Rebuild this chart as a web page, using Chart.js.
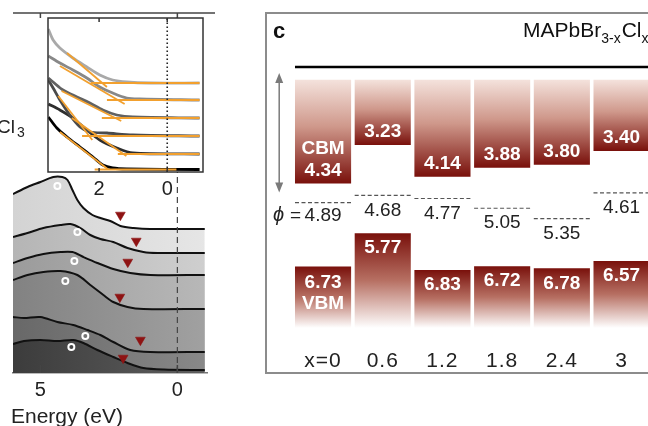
<!DOCTYPE html>
<html>
<head>
<meta charset="utf-8">
<title>MAPbBr3-xClx spectra and energy levels</title>
<script src="https://cdn.jsdelivr.net/npm/chart.js@4.4.1/dist/chart.umd.min.js"></script>
<style>
  html, body { margin:0; padding:0; background:#ffffff; width:648px; height:426px; overflow:hidden; position:relative; }
  canvas { position:absolute; display:block; }
</style>
</head>
<body>
<canvas id="mainChart" width="215" height="426" style="left:0;top:0"></canvas>
<canvas id="insetChart" width="175" height="200" style="left:40px;top:10px"></canvas>
<canvas id="levelChart" width="420" height="426" style="left:265px;top:0"></canvas>
<script>
// ---------------- DATA: panel b (spectra, binding energy in eV, intensity a.u.) ----------------
const mainTicks = [5, 0];
const insetTicks = [2, 0];

const spectrum1 = [[6.0,179],[5.47,186],[5.0,191],[4.53,196],[4.2,196],[4.01,193],[3.83,183],[3.65,173],[3.43,165],[3.1,158],[2.81,155],[2.45,152],[2.08,147],[1.6,145],[0.99,144],[-1.0,144]];
const spectrum2 = [[6.0,136],[5.47,140],[4.89,145],[4.27,148],[3.9,149],[3.54,145],[3.18,138],[2.81,134],[2.34,131],[1.82,125],[1.24,121],[0.73,120],[-1.0,120]];
const spectrum3 = [[6.0,110],[5.47,115],[4.89,119],[4.27,121],[3.83,121],[3.43,116],[2.92,110],[2.34,104],[1.72,100],[0.99,98],[-1.0,98]];
const spectrum4 = [[6.0,93],[5.47,98],[4.89,101],[4.27,102],[3.65,98],[3.18,88],[2.7,78],[2.34,71],[1.82,66],[1.24,64],[-1.0,64]];
const spectrum5 = [[6.0,56],[5.6,55],[5.0,56],[4.38,51],[3.8,48],[3.28,43],[2.81,38],[2.34,31],[1.72,23],[0.99,21],[-1.0,21]];
const spectrum6 = [[6.0,29],[5.6,32],[5.0,33],[4.38,32],[3.8,33],[3.43,30],[2.92,23],[2.34,16],[1.82,10],[1.24,5],[0.5,3.5],[-1.0,3]];

const cutoffCircles = [[4.38,187],[3.65,141],[3.76,112],[4.09,92],[3.36,37],[3.87,26]];
const onsetTriangles = [[2.08,158],[1.5,132],[1.81,111],[2.1,76],[1.35,33],[1.98,15]];

const insetCurve1 = [[3.49,143],[3.35,132],[3.15,124],[2.77,114],[2.36,105],[1.98,97],[1.6,92],[1.19,90],[0.5,89],[-0.95,89]];
const insetCurve2 = [[3.49,116],[3.15,109],[2.77,102],[2.36,94],[1.98,85],[1.6,79],[1.19,74],[0.81,73],[-0.95,72]];
const insetCurve3 = [[3.49,94],[3.35,90],[3.06,82],[2.65,75],[2.27,69],[1.89,62],[1.48,57],[1.01,55],[-0.95,54]];
const insetCurve4 = [[3.49,92],[3.35,84],[3.15,72],[2.86,57],[2.56,45],[2.27,40],[1.77,39],[1.01,37],[-0.95,36]];
const insetCurve5 = [[3.49,68],[3.15,62],[2.77,54],[2.36,42],[1.98,32],[1.48,24],[1.01,19],[-0.95,18]];
const insetCurve6 = [[3.49,55],[3.24,44],[2.94,35],[2.56,25],[2.18,15],[1.89,7],[1.6,4],[1.19,3],[-0.95,2.5]];

const insetTangents = [
  [[2.94,119],[1.77,85]],
  [[3.15,106],[1.25,68]],
  [[3.1,81],[1.35,51]],
  [[3.2,76],[2.2,32]],
  [[2.8,54],[1.2,16]],
  [[3.15,40],[1.75,3]]
];
const insetBaselines = [
  [[2.24,89],[-0.95,89]],
  [[1.77,72],[-0.95,72]],
  [[1.92,54],[-0.95,54]],
  [[2.5,36],[-0.95,36]],
  [[1.45,18],[-0.95,18]],
  [[2.13,2.5],[-0.27,2.5]]
];

// ---------------- DATA: panel c (energies below vacuum, eV) ----------------
const compositions = ['x=0', '0.6', '1.2', '1.8', '2.4', '3'];
const cbmValues = [4.34, 3.23, 4.14, 3.88, 3.80, 3.40];
const vbmValues = [6.73, 5.77, 6.83, 6.72, 6.78, 6.57];
const workFunctions = [4.89, 4.68, 4.77, 5.05, 5.35, 4.61];
const vacuumLevel = 0.98;
const cbmBarTop = 1.35;
const vbmBarBottom = 8.5;
const energyArrow = [1.15, 4.6];

// ---------------- STYLES ----------------
const FONT = '"Liberation Sans", Arial, Helvetica, sans-serif';
const mainFillLeft  = ['#d3d3d3','#b5b5b5','#9b9b9b','#828282','#686868','#3c3c3c'];
const mainFillRight = ['#e6e6e6','#cfcfcf','#b8b8b8','#a1a1a1','#898989','#5f5f5f'];
const insetColors = ['#a9a9a9','#888888','#626262','#4a4a4a','#2e2e2e','#000000'];
const ORANGE = '#f2a02e';
const cbmStops = [[0,'#f4e2dc'],[0.45,'#cf988b'],[1,'#79100b']];
const vbmStops = [[0,'#79100b'],[0.5,'#b77063'],[1,'#ffffff']];

const toXY = arr => arr.map(([x, y]) => ({x, y}));
function hGrad(chart, c1, c2) {
  const a = chart.chartArea;
  if (!a) return c1;
  const g = chart.ctx.createLinearGradient(a.left, 0, a.right, 0);
  g.addColorStop(0, c1); g.addColorStop(1, c2);
  return g;
}
function vGrad(ctx, stops) {
  const ch = ctx.chart;
  if (!ch.chartArea || !ctx.raw || !Array.isArray(ctx.raw)) return stops[stops.length - 1][1];
  const ys = ch.scales.y;
  const y0 = ys.getPixelForValue(ctx.raw[0]);
  const y1 = ys.getPixelForValue(ctx.raw[1]);
  const g = ch.ctx.createLinearGradient(0, y0, 0, y1);
  stops.forEach(([o, c]) => g.addColorStop(o, c));
  return g;
}

// ---------------- MAIN SPECTRA CHART ----------------
const spectra = [spectrum1, spectrum2, spectrum3, spectrum4, spectrum5, spectrum6];
const mainDatasets = [
  { label:'onset', data: toXY(onsetTriangles), showLine:false, pointStyle:'triangle', pointRadius:5.7, pointRotation:180,
    pointBackgroundColor:'#8e1313', pointBorderColor:'#8e1313', pointBorderWidth:0.5, order:0 },
  { label:'cutoff', data: toXY(cutoffCircles), showLine:false, pointStyle:'circle', pointRadius:3,
    pointBackgroundColor:'rgba(0,0,0,0)', pointBorderColor:'#ffffff', pointBorderWidth:2, order:0 },
  { label:'E_F', data: [{x:0, y:0}, {x:0, y:360}], showLine:true, borderColor:'#444', borderWidth:1.2,
    borderDash:[6,4], pointRadius:0, order:1 }
];
spectra.forEach((s, i) => mainDatasets.push({
  label:'spectrum ' + (i + 1), data: toXY(s), showLine:true, borderColor:'#111', borderWidth:2,
  pointRadius:0, tension:0.3, fill:'origin',
  backgroundColor: ctx => hGrad(ctx.chart, mainFillLeft[i], mainFillRight[i]),
  order: 10 - i
}));

const mainDecor = {
  id:'mainDecor',
  afterDraw(chart) {
    const {ctx, chartArea:a, scales:{x}} = chart;
    ctx.save();
    ctx.strokeStyle = '#444'; ctx.lineWidth = 1.5;
    ctx.beginPath(); ctx.moveTo(a.left, a.top); ctx.lineTo(chart.width, a.top); ctx.stroke();
    mainTicks.forEach(v => {
      const px = x.getPixelForValue(v);
      ctx.beginPath();
      ctx.moveTo(px, a.top); ctx.lineTo(px, a.top + 5);
      ctx.moveTo(px, a.bottom); ctx.lineTo(px, a.bottom - 8);
      ctx.stroke();
    });
    ctx.fillStyle = '#222'; ctx.textAlign = 'left'; ctx.textBaseline = 'alphabetic';
    ctx.letterSpacing = '0px';
    ctx.font = '21px ' + FONT;
    ctx.fillText('Energy (eV)', 11, 423);
    ctx.font = '19px ' + FONT;
    ctx.fillText('Cl', -3, 133);
    ctx.font = '14px ' + FONT;
    ctx.fillText('3', 17, 137);
    ctx.restore();
  }
};

new Chart(document.getElementById('mainChart'), {
  type:'scatter',
  data:{ datasets: mainDatasets },
  options:{
    responsive:false, animation:false, events:[], devicePixelRatio:1,
    layout:{ padding:{ left:13, right:7.5, top:13, bottom:18 } },
    plugins:{ legend:{display:false}, tooltip:{enabled:false} },
    scales:{
      x:{ type:'linear', min:-1.1, max:6, reverse:true,
          afterBuildTicks: s => { s.ticks = mainTicks.map(v => ({value:v})); },
          ticks:{ font:{family:FONT, size:20}, color:'#222', padding:5.5, maxRotation:0, autoSkip:false, callback: v => String(v) },
          grid:{ display:false, drawTicks:false }, border:{ display:true, color:'#777', width:1.5 } },
      y:{ display:false, min:0, max:360 }
    }
  },
  plugins:[mainDecor]
});

// ---------------- INSET CHART ----------------
const insetCurves = [insetCurve1, insetCurve2, insetCurve3, insetCurve4, insetCurve5, insetCurve6];
const insetDatasets = [
  { label:'E_F', data:[{x:0,y:0},{x:0,y:154}], showLine:true, borderColor:'#222', borderWidth:1.6,
    borderDash:[1.5,2.5], pointRadius:0, order:0 }
];
insetTangents.forEach((seg, i) => insetDatasets.push({ label:'fit slope ' + (i+1), data: toXY(seg), showLine:true,
  borderColor:ORANGE, borderWidth:1.8, pointRadius:0, order:1 }));
insetBaselines.forEach((seg, i) => insetDatasets.push({ label:'fit base ' + (i+1), data: toXY(seg), showLine:true,
  borderColor:ORANGE, borderWidth:2, pointRadius:0, order:1 }));
insetCurves.forEach((c, i) => insetDatasets.push({ label:'curve ' + (i+1), data: toXY(c), showLine:true,
  borderColor:insetColors[i], borderWidth:2.8, pointRadius:0, tension:0.3, order:2 }));

const insetDecor = {
  id:'insetDecor',
  beforeDraw(chart) {
    const {ctx, chartArea:a} = chart;
    ctx.save(); ctx.fillStyle = '#fff';
    ctx.fillRect(a.left, a.top, a.right - a.left, a.bottom - a.top);
    ctx.restore();
  },
  afterDraw(chart) {
    const {ctx, chartArea:a, scales:{x}} = chart;
    ctx.save();
    ctx.strokeStyle = '#333'; ctx.lineWidth = 1.5;
    ctx.strokeRect(a.left, a.top, a.right - a.left, a.bottom - a.top);
    insetTicks.forEach(v => {
      const px = x.getPixelForValue(v);
      ctx.beginPath();
      ctx.moveTo(px, a.top); ctx.lineTo(px, a.top + 4);
      ctx.moveTo(px, a.bottom); ctx.lineTo(px, a.bottom - 4);
      ctx.stroke();
    });
    ctx.restore();
  }
};

new Chart(document.getElementById('insetChart'), {
  type:'scatter',
  data:{ datasets: insetDatasets },
  options:{
    responsive:false, animation:false, events:[], devicePixelRatio:1,
    layout:{ padding:{ left:8, right:12, top:8, bottom:4 } },
    plugins:{ legend:{display:false}, tooltip:{enabled:false} },
    scales:{
      x:{ type:'linear', min:-1.05, max:3.5, reverse:true,
          afterBuildTicks: s => { s.ticks = insetTicks.map(v => ({value:v})); },
          ticks:{ font:{family:FONT, size:20}, color:'#222', padding:5, maxRotation:0, autoSkip:false, callback: v => String(v) },
          grid:{ display:false, drawTicks:false }, border:{ display:false } },
      y:{ display:false, min:0, max:154 }
    }
  },
  plugins:[insetDecor]
});

// ---------------- PANEL c: ENERGY LEVEL CHART ----------------
const levelDecor = {
  id:'levelDecor',
  beforeDraw(chart) { chart.ctx.letterSpacing = '1px'; },
  afterDatasetsDraw(chart) {
    const {ctx, chartArea:a, scales:{y}} = chart;
    const bars = chart.getDatasetMeta(0).data;
    ctx.save();
    // vacuum level
    const yv = y.getPixelForValue(vacuumLevel);
    ctx.strokeStyle = '#000'; ctx.lineWidth = 2.5;
    ctx.beginPath(); ctx.moveTo(bars[0].x - bars[0].width / 2, yv); ctx.lineTo(chart.width, yv); ctx.stroke();
    // double arrow
    const ax = a.left - 14;
    const ya = y.getPixelForValue(energyArrow[0]), yb = y.getPixelForValue(energyArrow[1]);
    ctx.strokeStyle = '#7a7a7a'; ctx.fillStyle = '#7a7a7a'; ctx.lineWidth = 1.5;
    ctx.beginPath(); ctx.moveTo(ax, ya + 8); ctx.lineTo(ax, yb - 8); ctx.stroke();
    ctx.beginPath(); ctx.moveTo(ax, ya); ctx.lineTo(ax - 4, ya + 10); ctx.lineTo(ax + 4, ya + 10); ctx.closePath(); ctx.fill();
    ctx.beginPath(); ctx.moveTo(ax, yb); ctx.lineTo(ax - 4, yb - 10); ctx.lineTo(ax + 4, yb - 10); ctx.closePath(); ctx.fill();
    // labels
    ctx.textAlign = 'center'; ctx.textBaseline = 'middle'; ctx.letterSpacing = '0px';
    bars.forEach((bar, i) => {
      const cx = bar.x, w = bar.width;
      // work function dashed line
      const yp = y.getPixelForValue(workFunctions[i]);
      ctx.strokeStyle = '#555'; ctx.lineWidth = 1.2; ctx.setLineDash([4, 2.5]);
      ctx.beginPath(); ctx.moveTo(cx - w / 2, yp); ctx.lineTo(cx + w / 2, yp); ctx.stroke();
      ctx.setLineDash([]);
      ctx.fillStyle = '#222'; ctx.font = '19px ' + FONT;
      const phiY = yp + (i === 0 ? 13 : 15);
      ctx.fillText(workFunctions[i].toFixed(2), cx, phiY);
      if (i === 0) {
        ctx.textAlign = 'right';
        ctx.fillText('=', cx - 22, phiY);
        ctx.font = 'italic 20px ' + FONT;
        ctx.fillText('ϕ', cx - 39, phiY);
        ctx.textAlign = 'center';
      }
      // CBM label
      ctx.fillStyle = '#ffffff'; ctx.font = 'bold 19px ' + FONT;
      const yc = y.getPixelForValue(cbmValues[i]);
      ctx.fillText(cbmValues[i].toFixed(2), cx, yc - 13);
      if (i === 0) ctx.fillText('CBM', cx, yc - 35);
      // VBM label
      const yvb = y.getPixelForValue(vbmValues[i]);
      ctx.fillText(vbmValues[i].toFixed(2), cx, yvb + (i === 0 ? 16 : 15));
      if (i === 0) ctx.fillText('VBM', cx, yvb + 37);
    });
    ctx.restore();
  },
  afterDraw(chart) {
    const {ctx} = chart;
    ctx.save();
    ctx.strokeStyle = '#8c8c8c'; ctx.lineWidth = 2;
    ctx.strokeRect(1, 13, 700, 360);
    ctx.fillStyle = '#111'; ctx.textAlign = 'left'; ctx.textBaseline = 'alphabetic';
    ctx.letterSpacing = '0px';
    ctx.font = 'bold 22px ' + FONT;
    ctx.fillText('c', 8, 38);
    let tx = 258;
    ctx.font = '21px ' + FONT; ctx.fillText('MAPbBr', tx, 37); tx += ctx.measureText('MAPbBr').width;
    ctx.font = '14px ' + FONT; ctx.fillText('3-x', tx, 43); tx += ctx.measureText('3-x').width + 1;
    ctx.font = '21px ' + FONT; ctx.fillText('Cl', tx, 37); tx += ctx.measureText('Cl').width;
    ctx.font = '14px ' + FONT; ctx.fillText('x', tx, 43);
    ctx.restore();
  }
};

new Chart(document.getElementById('levelChart'), {
  type:'bar',
  data:{
    labels: compositions,
    datasets:[
      { label:'CBM', data: cbmValues.map(v => [cbmBarTop, v]), grouped:false,
        barPercentage:0.94, categoryPercentage:1.0, borderWidth:0, borderSkipped:false,
        backgroundColor: ctx => vGrad(ctx, cbmStops) },
      { label:'VBM', data: vbmValues.map(v => [v, vbmBarBottom]), grouped:false,
        barPercentage:0.94, categoryPercentage:1.0, borderWidth:0, borderSkipped:false,
        backgroundColor: ctx => vGrad(ctx, vbmStops) }
    ]
  },
  options:{
    responsive:false, animation:false, events:[], devicePixelRatio:1,
    layout:{ padding:{ left:28.2, right:33.6, top:33, bottom:48.1 } },
    plugins:{ legend:{display:false}, tooltip:{enabled:false} },
    scales:{
      x:{ grid:{ display:false, drawTicks:false }, border:{ display:false },
          ticks:{ font:{family:FONT, size:21}, color:'#222', padding:3.7, maxRotation:0, autoSkip:false } },
      y:{ display:false, min:0, max:9, reverse:true }
    }
  },
  plugins:[levelDecor]
});
</script>
</body>
</html>
